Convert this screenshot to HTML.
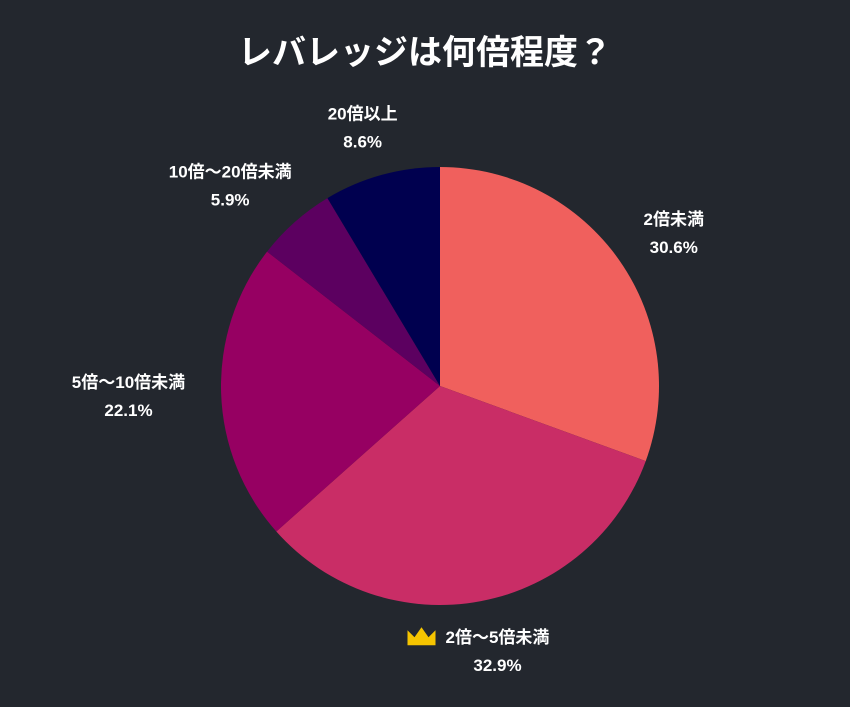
<!DOCTYPE html>
<html><head><meta charset="utf-8"><style>
body{margin:0;background:#23272e;}
svg text{font-family:"Liberation Sans","Noto Sans CJK JP",sans-serif;font-weight:bold;fill:#fff;}
</style></head><body>
<svg id="c" width="850" height="702">
<rect width="850" height="702" fill="#23272e"/>
<text x="425" y="64" text-anchor="middle" font-size="34">レバレッジは何倍程度？</text>
<g id="slices"></g><g id="labels"></g>
</svg>
<script>
const categories=["2倍未満","2倍～5倍未満","5倍～10倍未満","10倍～20倍未満","20倍以上"];
const values=[30.6,32.9,22.1,5.9,8.6];
const colors=["#f0605d","#c92d66","#960062","#5c0060","#00004f"];
const cx=440,cy=386,R=219;
const NS="http://www.w3.org/2000/svg";
const total=values.reduce((a,b)=>a+b,0);
const pt=(a,r)=>[cx+r*Math.sin(a),cy-r*Math.cos(a)];
let acc=0;
const sg=document.getElementById('slices'),lg=document.getElementById('labels');
const maxV=Math.max(...values);
values.forEach((v,i)=>{
  const a0=acc/total*2*Math.PI;acc+=v;const a1=acc/total*2*Math.PI;
  const [x0,y0]=pt(a0,R),[x1,y1]=pt(a1,R);
  const p=document.createElementNS(NS,'path');
  p.setAttribute('d',`M${cx},${cy}L${x0},${y0}A${R},${R} 0 ${a1-a0>Math.PI?1:0} 1 ${x1},${y1}Z`);
  p.setAttribute('fill',colors[i]);
  
  
  sg.appendChild(p);
  const am=(a0+a1)/2;const [ax,ay]=pt(am,255);
  const t1=document.createElementNS(NS,'text');
  t1.setAttribute('font-size','17');t1.setAttribute('text-anchor','middle');
  t1.textContent=categories[i];
  
  
  lg.appendChild(t1);
  const hw=t1.getComputedTextLength()/2;
  const x=ax+Math.sin(am)*hw, y=ay-Math.cos(am)*14;
  t1.setAttribute('x',x);t1.setAttribute('y',y-7);
  const t2=document.createElementNS(NS,'text');
  t2.setAttribute('font-size','17');t2.setAttribute('text-anchor','middle');
  t2.setAttribute('x',x);t2.setAttribute('y',y+21);
  t2.textContent=v.toFixed(1)+'%';
  
  
  lg.appendChild(t2);
  if(v===maxV){
    const c=document.createElementNS(NS,'path');
    const cxr=x-hw-24,cyr=y-20;
    c.setAttribute('d',`M${cxr-14},${cyr}L${cxr-14},${cyr+15}L${cxr+14},${cyr+15}L${cxr+14},${cyr}L${cxr+7},${cyr+7}L${cxr},${cyr-3}L${cxr-7},${cyr+7}Z`);
    c.setAttribute('fill','#f5c400');
    
    
    lg.appendChild(c);
  }
});
</script>
</body></html>
